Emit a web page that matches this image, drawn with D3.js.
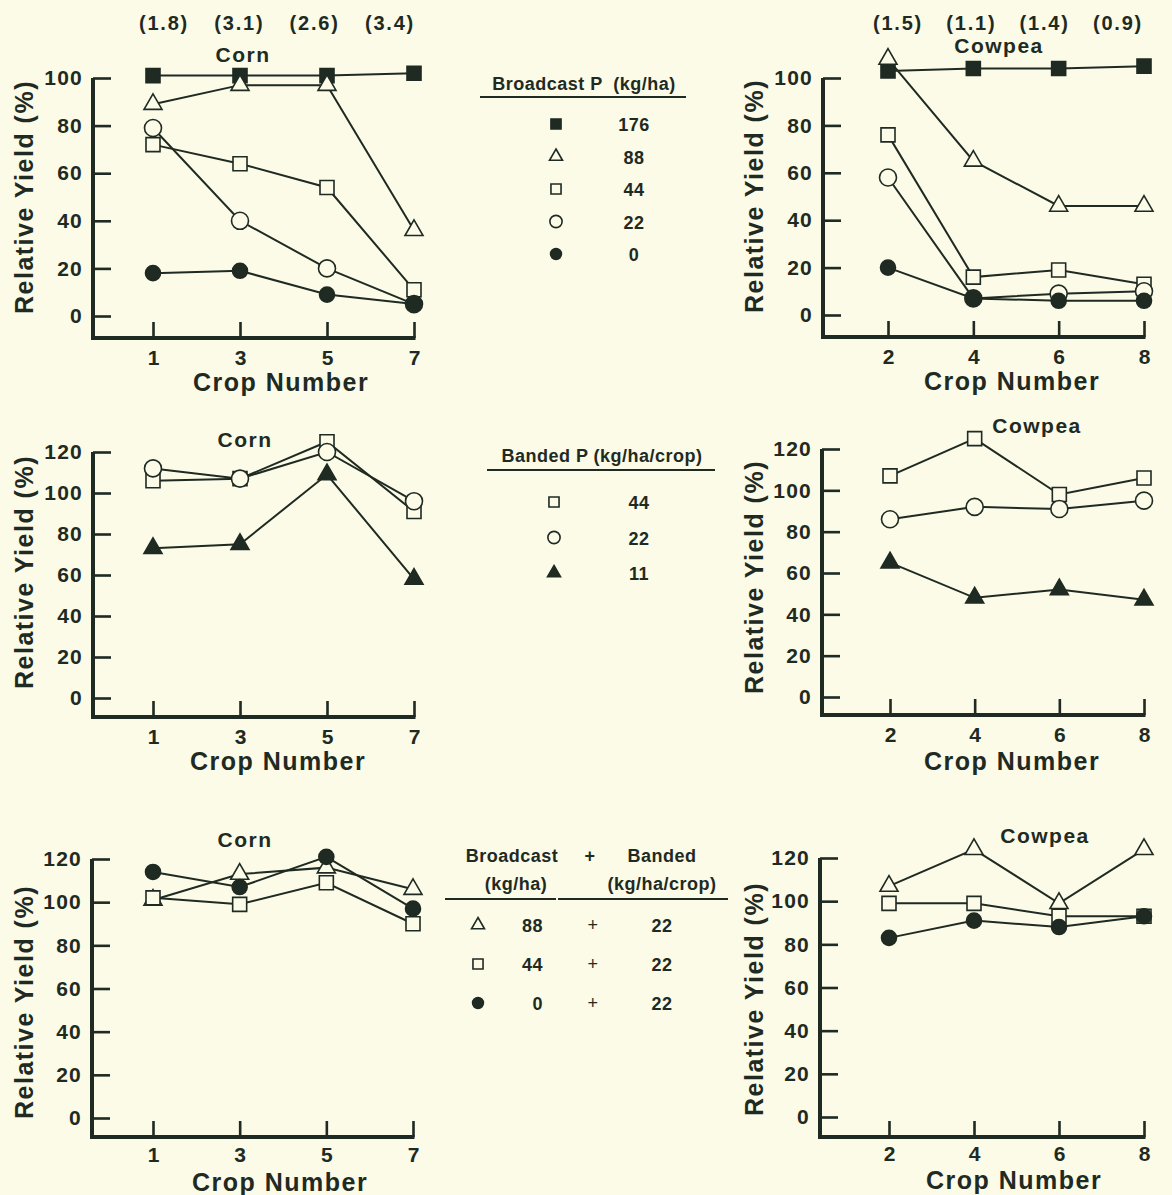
<!DOCTYPE html>
<html>
<head>
<meta charset="utf-8">
<script src="https://cdn.jsdelivr.net/npm/d3@7"></script>
<style>
  body { margin: 0; background: #fbfbe8; }
  svg { display: block; }
  text { font-family: "Liberation Sans", Arial, Helvetica, sans-serif; fill: #1f2a22; }
</style>
</head>
<body>
<div id="chart"></div>
<script>
// crop numbers on the x axes
var cornCrops = [1, 3, 5, 7];
var cowpeaCrops = [2, 4, 6, 8];
var cornTicksY = [0, 20, 40, 60, 80, 100];
var bandTicksY = [0, 20, 40, 60, 80, 100, 120];

// figures in brackets above the top panels
var cornTopLabels = ["(1.8)", "(3.1)", "(2.6)", "(3.4)"];
var cowpeaTopLabels = ["(1.5)", "(1.1)", "(1.4)", "(0.9)"];

// Broadcast P (kg/ha): 176, 88, 44, 22, 0
var broadcastRates = ["176", "88", "44", "22", "0"];
var broadcastCorn = [
  [101, 101, 101, 102],
  [89, 97, 97, 36],
  [72, 64, 54, 11],
  [79, 40, 20, 5],
  [18, 19, 9, 5]
];
var broadcastCowpea = [
  [103, 104, 104, 105],
  [108, 65, 46, 46],
  [76, 16, 19, 13],
  [58, 7, 9, 10],
  [20, 7, 6, 6]
];

// Banded P (kg/ha/crop): 44, 22, 11
var bandedRates = ["44", "22", "11"];
var bandedCorn = [
  [106, 107, 125, 91],
  [112, 107, 120, 96],
  [73, 75, 109, 58]
];
var bandedCowpea = [
  [107, 125, 98, 106],
  [86, 92, 91, 95],
  [65, 48, 52, 47]
];

// Broadcast + Banded
var comboBroadcast = ["88", "44", "0"];
var comboBanded = ["22", "22", "22"];
var comboCorn = [
  [101, 113, 116, 106],
  [102, 99, 109, 90],
  [114, 107, 121, 97]
];
var comboCowpea = [
  [107, 124, 99, 124],
  [99, 99, 93, 93],
  [83, 91, 88, 93]
];

var ink = "#1f2a22", paper = "#fbfbe8";

var broadcastShapes = ["fsquare", "otri", "osquare", "ocircle", "fcircle"];
var bandedShapes = ["osquare", "ocircle", "ftri"];
var comboShapes = ["otri", "osquare", "fcircle"];

var svg = d3.select("#chart").append("svg")
  .attr("width", 1172).attr("height", 1195);

function marker(g, shape, cx, cy, k) {
  k = k || 1;
  var type, area;
  if (shape.indexOf("square") > 0) { type = d3.symbolSquare; area = Math.pow(14 * k, 2); }
  else if (shape.indexOf("tri") > 0) { type = d3.symbolTriangle; area = Math.pow(18 * k, 2) * Math.sqrt(3) / 4; }
  else { type = d3.symbolCircle; area = Math.PI * Math.pow((shape[0] == "f" ? 7.5 : 8.5) * k, 2); }
  g.append("path")
    .attr("d", d3.symbol().type(type).size(area)())
    .attr("transform", "translate(" + cx + "," + cy + ")")
    .attr("fill", shape[0] == "f" ? ink : paper)
    .attr("stroke", ink)
    .attr("stroke-width", 1.6);
}

var panels = [
  {crops: cornCrops, series: broadcastCorn, shapes: broadcastShapes, ticks: cornTicksY,
   ax: 93, xr: [153, 414], yr: [316, 78], base: 338, title: "Corn", tx: 243, ty: 62,
   top: cornTopLabels, topR: [164, 390], ylx: 33, yly: 197, xlx: 281, xly: 391, pad: 12},
  {crops: cowpeaCrops, series: broadcastCowpea, shapes: broadcastShapes, ticks: cornTicksY,
   ax: 823, xr: [888, 1144], yr: [315, 78], base: 337, title: "Cowpea", tx: 999, ty: 53,
   top: cowpeaTopLabels, topR: [898, 1118], ylx: 763, yly: 196, xlx: 1012, xly: 390, pad: 12},
  {crops: cornCrops, series: bandedCorn, shapes: bandedShapes, ticks: bandTicksY,
   ax: 93, xr: [153, 414], yr: [698, 452], base: 717, title: "Corn", tx: 245, ty: 447,
   ylx: 33, yly: 572, xlx: 278, xly: 770, pad: 12},
  {crops: cowpeaCrops, series: bandedCowpea, shapes: bandedShapes, ticks: bandTicksY,
   ax: 822, xr: [890, 1144], yr: [697, 449], base: 715, title: "Cowpea", tx: 1037, ty: 433,
   ylx: 763, yly: 577, xlx: 1012, xly: 770, pad: 12},
  {crops: cornCrops, series: comboCorn, shapes: comboShapes, ticks: bandTicksY,
   ax: 92, xr: [153, 413], yr: [1118, 859], base: 1137, title: "Corn", tx: 245, ty: 847,
   ylx: 33, yly: 1002, xlx: 280, xly: 1191, pad: 10},
  {crops: cowpeaCrops, series: comboCowpea, shapes: comboShapes, ticks: bandTicksY,
   ax: 820, xr: [889, 1144], yr: [1117, 858], base: 1137, title: "Cowpea", tx: 1045, ty: 843,
   ylx: 763, yly: 999, xlx: 1014, xly: 1189, pad: 9}
];

panels.forEach(function(p) {
  var g = svg.append("g");
  var x = d3.scaleLinear().domain([p.crops[0], p.crops[3]]).range(p.xr);
  var y = d3.scaleLinear().domain([0, d3.max(p.ticks)]).range(p.yr);

  // y ticks point inward, labels outside
  var ya = g.append("g").attr("transform", "translate(" + p.ax + ",0)")
    .call(d3.axisLeft(y).tickValues(p.ticks).tickSize(-18).tickPadding(10));
  ya.select(".domain").remove();
  ya.selectAll("line").attr("stroke", ink).attr("stroke-width", 2.6);
  ya.selectAll("text").style("font-size", "21px").style("font-weight", "bold")
    .style("letter-spacing", "1.2px").attr("fill", ink);

  var xa = g.append("g").attr("transform", "translate(0," + p.base + ")")
    .call(d3.axisBottom(x).tickValues(p.crops).tickFormat(d3.format("d"))
      .tickSize(-16).tickPadding(p.pad));
  xa.select(".domain").remove();
  xa.selectAll("line").attr("stroke", ink).attr("stroke-width", 2.6);
  xa.selectAll("text").style("font-size", "21px").style("font-weight", "bold").attr("fill", ink);

  // frame
  g.append("path")
    .attr("d", "M" + p.ax + "," + p.yr[1] + "V" + p.base + "H" + (p.xr[1] + 1.5))
    .attr("fill", "none").attr("stroke", ink).attr("stroke-width", 4);

  // series lines then markers
  var line = d3.line().x(function(d, i) { return x(p.crops[i]); }).y(function(d) { return y(d); });
  p.series.forEach(function(s) {
    g.append("path").attr("d", line(s)).attr("fill", "none")
      .attr("stroke", ink).attr("stroke-width", 2);
  });
  p.series.forEach(function(s, j) {
    s.forEach(function(v, i) { marker(g, p.shapes[j], x(p.crops[i]), y(v)); });
  });

  g.append("text").attr("x", p.tx).attr("y", p.ty).attr("text-anchor", "middle")
    .style("font-size", "21px").style("font-weight", "bold").style("letter-spacing", "1.5px")
    .text(p.title);

  if (p.top) {
    var tp = d3.scalePoint().domain(p.top).range(p.topR);
    p.top.forEach(function(t) {
      g.append("text").attr("x", tp(t)).attr("y", 30).attr("text-anchor", "middle")
        .style("font-size", "20px").style("font-weight", "bold").style("letter-spacing", "1.8px")
        .text(t);
    });
  }

  g.append("text").attr("transform", "translate(" + p.ylx + "," + p.yly + ") rotate(-90)")
    .attr("text-anchor", "middle").style("font-size", "25px").style("font-weight", "bold")
    .style("letter-spacing", "1.5px").text("Relative Yield (%)");

  g.append("text").attr("x", p.xlx).attr("y", p.xly).attr("text-anchor", "middle")
    .style("font-size", "25px").style("font-weight", "bold")
    .style("letter-spacing", "1.5px").text("Crop Number");
});

// legends
function legText(x, y, t, anchor) {
  return svg.append("text").attr("x", x).attr("y", y).attr("text-anchor", anchor || "middle")
    .style("font-size", "18px").style("font-weight", "bold").style("letter-spacing", "0.5px")
    .text(t);
}
function rule(x1, x2, y) {
  svg.append("line").attr("x1", x1).attr("x2", x2).attr("y1", y).attr("y2", y)
    .attr("stroke", ink).attr("stroke-width", 2);
}

var leg1 = d3.scalePoint().domain(broadcastRates).range([124, 254]);
legText(584, 90, "Broadcast P  (kg/ha)").attr("xml:space", "preserve");
rule(480, 686, 97);
broadcastRates.forEach(function(r, i) {
  marker(svg, broadcastShapes[i], 556, leg1(r), 0.72);
  legText(634, leg1(r) + 7, r);
});

var leg2 = d3.scalePoint().domain(bandedRates).range([502, 573]);
legText(602, 462, "Banded P (kg/ha/crop)");
rule(487, 715, 470);
bandedRates.forEach(function(r, i) {
  marker(svg, bandedShapes[i], 554, leg2(r), 0.72);
  legText(639, leg2(r) + 7, r);
});

legText(512, 862, "Broadcast");
legText(590, 862, "+");
legText(662, 862, "Banded");
legText(516, 890, "(kg/ha)");
legText(662, 890, "(kg/ha/crop)");
rule(445, 556, 899);
rule(558, 728, 899);
var leg3 = d3.scalePoint().domain([0, 1, 2]).range([925, 1003]);
comboBroadcast.forEach(function(r, i) {
  var yy = leg3(i);
  marker(svg, comboShapes[i], 478, yy, 0.72);
  legText(543, yy + 7, r, "end");
  legText(593, yy + 6, "+").style("font-weight", "normal");
  legText(662, yy + 7, comboBanded[i]);
});
</script>
</body>
</html>
